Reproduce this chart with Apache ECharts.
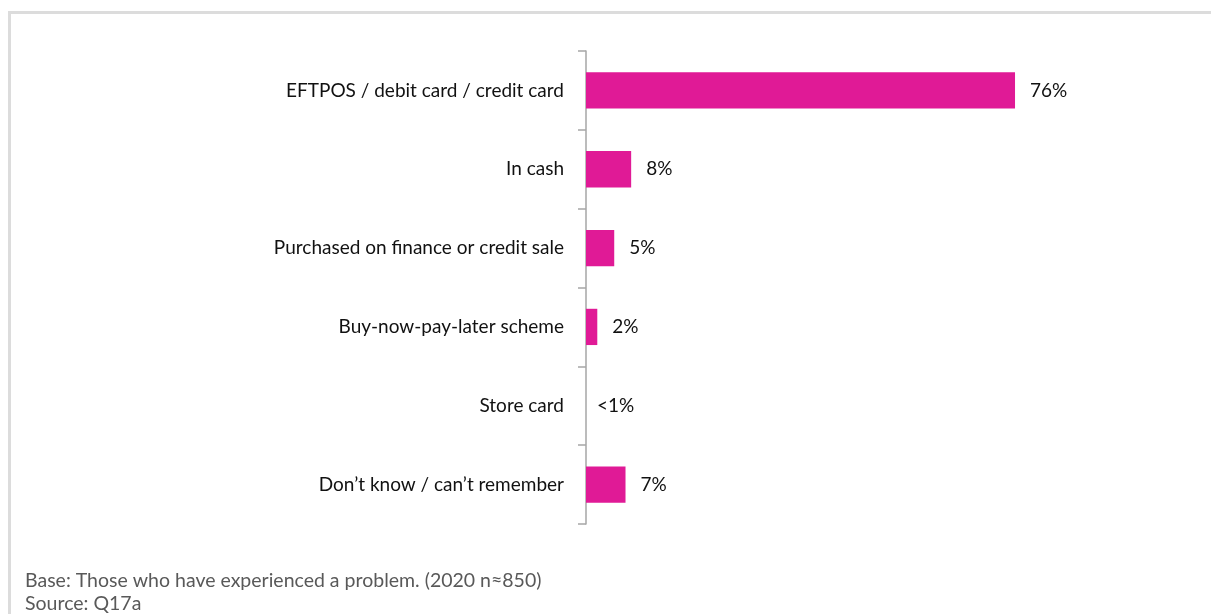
<!DOCTYPE html>
<html>
<head>
<meta charset="utf-8">
<script src="https://cdn.jsdelivr.net/npm/echarts@6/dist/echarts.min.js"></script>
<style>
  html, body { margin: 0; padding: 0; background: #fff; }
  #chart { width: 1211px; height: 614px; }
</style>
</head>
<body>
<div id="chart"></div>
<script>
// Payment methods, in display order (top to bottom)
const categories = [
  'EFTPOS / debit card / credit card',
  'In cash',
  'Purchased on finance or credit sale',
  'Buy-now-pay-later scheme',
  'Store card',
  'Don\u2019t know / can\u2019t remember'
];
// Share of respondents (%)
const values = [76, 8, 5, 2, 0, 7];
// Value labels shown next to each bar
const valueLabels = ['76%', '8%', '5%', '2%', '<1%', '7%'];

const footnotes = [
  'Base: Those who have experienced a problem. (2020 n\u2248850)',
  'Source: Q17a'
];

const FONT = 'Lato, "Open Sans", sans-serif';
const chart = echarts.init(document.getElementById('chart'), null, { renderer: 'canvas' });

chart.setOption({
  animation: false,
  backgroundColor: '#ffffff',
  graphic: [
    {
      type: 'rect',
      shape: { x: 9.5, y: 12.5, width: 1400, height: 800 },
      style: { fill: 'none', stroke: '#dcdcdc', lineWidth: 3 },
      silent: true
    },
    {
      type: 'text',
      left: 25,
      top: 569,
      style: {
        text: footnotes.join('\n'),
        font: '19.5px ' + FONT,
        fill: '#595959',
        lineHeight: 23
      }
    }
  ],
  grid: { left: 586, top: 51, bottom: 90, right: 60.5, containLabel: false },
  xAxis: {
    type: 'value',
    min: 0,
    max: 100,
    show: false
  },
  yAxis: {
    type: 'category',
    data: categories,
    inverse: true,
    axisLine: { show: true, lineStyle: { color: '#a6a6a6', width: 1.5 } },
    axisTick: { show: true, length: 8, lineStyle: { color: '#a6a6a6', width: 1.5 } },
    axisLabel: {
      margin: 22,
      fontFamily: FONT,
      fontSize: 19,
      color: '#111111',
      padding: [2, 0, 0, 0]
    }
  },
  series: [{
    type: 'bar',
    data: values.map((v, i) => ({
      value: v,
      label: { formatter: valueLabels[i], distance: v === 0 ? 11 : 15 }
    })),
    barCategoryGap: '54%',
    itemStyle: { color: '#e01a96' },
    label: {
      show: true,
      position: 'right',
      fontFamily: FONT,
      fontSize: 19,
      color: '#111111',
      padding: [2, 0, 0, 0]
    }
  }]
});
</script>
</body>
</html>
